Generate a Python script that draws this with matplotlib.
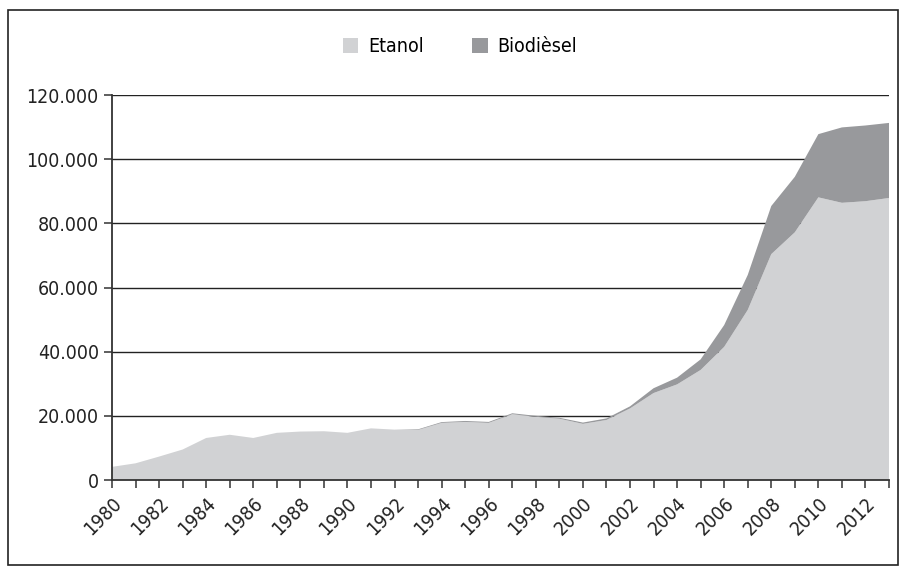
import numpy as np
import matplotlib
matplotlib.use("Agg")
import matplotlib.pyplot as plt
from matplotlib.patches import Rectangle
from matplotlib.ticker import FuncFormatter, MultipleLocator

plt.rcParams["font.family"] = ["DejaVu Sans"]
plt.rcParams["font.stretch"] = "condensed"

# ----- data ----------------------------------------------------------------
years = list(range(1980, 2014))
etanol = [4100, 5200, 7300, 9500, 13100, 14100, 13100, 14700, 15100, 15200,
          14700, 16100, 15700, 15600, 17800, 18100, 17800, 20500, 19700, 19100,
          17500, 18700, 22300, 27100, 29800, 34300, 41500, 53000, 70400, 77200,
          88100, 86400, 86900, 87900]
biodiesel = [0, 0, 0, 0, 0, 0, 0, 0, 0, 0,
             0, 0, 0, 200, 250, 300, 300, 300, 300, 300,
             400, 500, 650, 1500, 2100, 3300, 6800, 10900, 15000, 17300,
             19700, 23500, 23600, 23400]
labels = ["Etanol", "Biodièsel"]
colors = ["#d1d2d4", "#98999c"]

# ----- plot ----------------------------------------------------------------
fig = plt.figure(figsize=(9.04, 5.70), dpi=100)
ax = fig.add_axes([112 / 904, 90 / 570, 777 / 904, 385 / 570])

ax.stackplot(years, etanol, biodiesel, colors=colors, labels=labels,
             linewidth=0, zorder=3)

ax.set_xlim(1980, 2013)
ax.set_ylim(0, 120000)
ax.yaxis.set_major_locator(MultipleLocator(20000))
ax.yaxis.set_major_formatter(
    FuncFormatter(lambda v, _: f"{int(v):,}".replace(",", ".")))
ax.set_xticks(years)
ax.set_xticklabels([str(y) if y % 2 == 0 else "" for y in years],
                   rotation=45, ha="right", va="top", rotation_mode="anchor")

ax.grid(axis="y", color="#222222", lw=1.0, zorder=1)
ax.set_axisbelow(True)
for s in ["top", "right"]:
    ax.spines[s].set_visible(False)
for s in ["left", "bottom"]:
    ax.spines[s].set_color("#333333")
    ax.spines[s].set_linewidth(1.3)
    ax.spines[s].set_zorder(4)
ax.tick_params(axis="both", direction="out", length=6, width=1.1,
               color="#333333", labelsize=14, labelcolor="#222222")
ax.tick_params(axis="x", pad=4)

fig.legend(loc="center", bbox_to_anchor=(460 / 904, 1 - 47 / 570), ncol=2,
           frameon=False, fontsize=14, handlelength=0.8, handleheight=0.8,
           handletextpad=0.5, columnspacing=2.5)

# outer frame
fig.patches.append(Rectangle((8 / 904, 5 / 570), 890 / 904, 555 / 570,
                             transform=fig.transFigure, fill=False,
                             edgecolor="#222222", lw=1.2))

fig.savefig("out.png", dpi=100)
